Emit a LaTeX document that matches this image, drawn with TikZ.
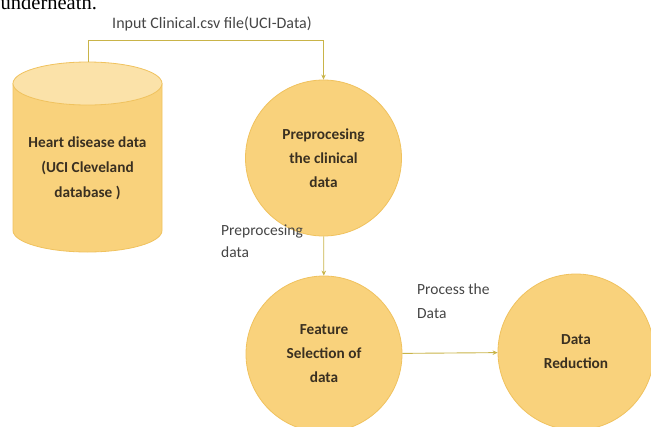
\documentclass[tikz,border=0pt]{standalone}
\usepackage{fontspec}
\setmainfont{Carlito}
\newfontfamily\serifx{Liberation Serif}
\usetikzlibrary{arrows.meta}
\definecolor{gold}{HTML}{F9D27C}
\definecolor{goldedge}{HTML}{F0C25E}
\definecolor{goldtop}{HTML}{FBE2A9}
\definecolor{wire}{HTML}{C9B449}
\definecolor{ink}{HTML}{3A3021}
\definecolor{lbl}{HTML}{454545}
\begin{document}
\begin{tikzpicture}[x=1pt,y=-1pt,
  stage/.style={circle, fill=gold, draw=goldedge, line width=0.8pt, minimum size=156pt, inner sep=0pt, align=center, text=ink, font=\bfseries\fontsize{15.3}{24}\selectfont},
  lab/.style={text=lbl, font=\fontsize{16}{23}\selectfont, align=left, inner sep=0pt},
  conn/.style={draw=wire, line width=0.9pt},
  arr/.style={conn, -{Stealth[length=5pt,width=4.5pt]}}]
\useasboundingbox (0,0) rectangle (651,426);
\clip (0,0) rectangle (651,426);
% partial text at the top edge
\node[anchor=base west, inner sep=0pt, font=\serifx\fontsize{20.5}{21}\selectfont, text=black] (und) at (0.5,9.5) {underneath.};
% database cylinder
\path[fill=gold, draw=goldedge, line width=0.8pt] (13,83.5) -- (13,230.5) arc[start angle=180, end angle=0, x radius=74.5, y radius=21.5] -- (162,83.5) -- cycle;
\path[fill=goldtop, draw=goldedge, line width=0.8pt] (87.5,83.5) ellipse[x radius=74.5, y radius=21.5];
\node[text=ink, align=center, inner sep=0pt, font=\bfseries\fontsize{15.3}{25}\selectfont] (db) at (87.5,168) {Heart disease data\\(UCI Cleveland\\database )};
\coordinate (dbtop) at (88,62);
% stages
\node[stage] (pre) at (323.5,158) {Preprocesing\\the clinical\\data};
\node[stage] (feat) at (324,354) {Feature\\Selection of\\data};
\node[stage] (red) at (576,352) {Data\\Reduction};
% connectors
\coordinate (k1) at (88,40);
\coordinate (k2) at (323.5,40);
\draw[arr] (dbtop) -- (k1) -- (k2) -- (pre.north);
\draw[arr] (pre) -- (feat);
\draw[arr] (feat) -- (red);
% labels
\node[lab, anchor=center] (inlbl) at (212,24) {Input Clinical.csv file(UCI-Data)};
\node[lab, anchor=base west, font=\fontsize{15.5}{22}\selectfont] (pplbl) at (221,257) {Preprocesing\\data};
\node[lab, anchor=base west, font=\fontsize{15.5}{24}\selectfont] (prlbl) at (417,318) {Process the\\Data};
\end{tikzpicture}
\end{document}
